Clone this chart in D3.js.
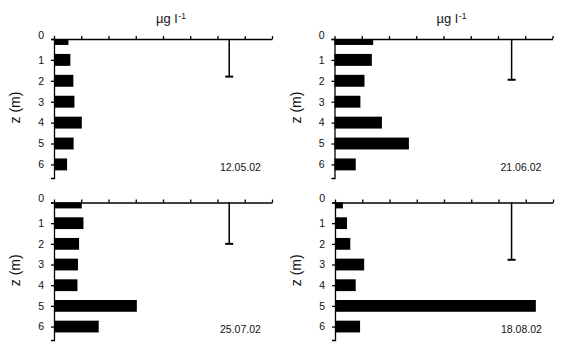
<!DOCTYPE html>
<html><head><meta charset="utf-8">
<script src="https://cdn.jsdelivr.net/npm/d3@7"></script>
<style>
body{margin:0;background:#fff}
text{font-family:"Liberation Sans",Arial,sans-serif;fill:#111}
</style>
</head><body>
<svg id="chart" width="567" height="348"></svg>
<script>
// ---- data (x in axis-tick units, unlabeled) ----
const depths = [0, 1, 2, 3, 4, 5, 6];
const dates = ["12.05.02", "21.06.02", "25.07.02", "18.08.02"];
const conc120502 = [0.53, 0.60, 0.71, 0.75, 1.02, 0.72, 0.48];
const conc210602 = [1.42, 1.37, 1.10, 0.95, 1.74, 2.73, 0.78];
const conc250702 = [1.02, 1.08, 0.92, 0.88, 0.86, 3.04, 1.64];
const conc180802 = [0.29, 0.44, 0.56, 1.07, 0.76, 7.37, 0.92];
const errorX = [6.43, 6.50, 6.43, 6.48];
const errorDepth = [1.80, 1.95, 2.00, 2.77];
const xTickValues = [0, 1, 2, 3, 4, 5, 6, 7, 8];
const yTickValues = [0, 1, 2, 3, 4, 5, 6];
const unitLabel = "µg l";
const unitSup = "-1";
const depthLabel = "z (m)";

const series = [conc120502, conc210602, conc250702, conc180802];

// ---- layout ----
const layout = [
  {x0: 54,  x1: 272, y0: 39,  y1: 178, unit: true, lx: 20},
  {x0: 334.5, x1: 552.5, y0: 39, y1: 178, unit: true, lx: 300.5},
  {x0: 54,  x1: 272, y0: 202.5, y1: 340, unit: false, lx: 20},
  {x0: 335, x1: 553, y0: 202.5, y1: 340, unit: false, lx: 300.5}
];
const yMax = 6.65;
const barHalf = 0.285;

const svg = d3.select("#chart");

layout.forEach((L, i) => {
  const x = d3.scaleLinear().domain([0, 8]).range([L.x0, L.x1]);
  const y = d3.scaleLinear().domain([0, yMax]).range([L.y0, L.y1]);
  const g = svg.append("g");
  const vals = series[i];

  // bars
  g.selectAll("rect.bar").data(depths).join("rect")
    .attr("class", "bar")
    .attr("x", x(0))
    .attr("y", d => y(Math.max(0, d - barHalf)))
    .attr("width", (d, j) => x(vals[j]) - x(0))
    .attr("height", d => y(d + barHalf) - y(Math.max(0, d - barHalf)))
    .attr("fill", "#000");

  // x axis (top, no labels)
  const ax = g.append("g").attr("transform", `translate(0,${L.y0})`)
    .call(d3.axisTop(x).tickValues(xTickValues).tickSize(3).tickSizeOuter(0).tickFormat(""));
  ax.selectAll("path,line").attr("stroke", "#000").attr("stroke-width", 1.3);

  // y axis
  const ay = g.append("g").attr("transform", `translate(${L.x0},0)`)
    .call(d3.axisLeft(y).tickValues(yTickValues).tickSize(3).tickSizeOuter(3).tickPadding(7).tickFormat(d3.format("d")));
  ay.selectAll("path,line").attr("stroke", "#000").attr("stroke-width", 1.3);
  ay.selectAll("text").style("font-size", "10.5px").style("font-family", '"Liberation Sans",Arial,sans-serif').attr("fill", "#111");
  ay.selectAll(".tick").filter(d => d === 0).select("text").attr("dy", "-0.05em");

  // error bar
  const ex = x(errorX[i]);
  g.append("line").attr("x1", ex).attr("x2", ex).attr("y1", y(0)).attr("y2", y(errorDepth[i]))
    .attr("stroke", "#000").attr("stroke-width", 1.5);
  g.append("line").attr("x1", ex - 4).attr("x2", ex + 4).attr("y1", y(errorDepth[i])).attr("y2", y(errorDepth[i]))
    .attr("stroke", "#000").attr("stroke-width", 2);

  // date label
  g.append("text").attr("x", L.x1 - 52).attr("y", L.y1 - 7.5)
    .style("font-size", "10.5px").text(dates[i]);

  // depth label
  const yc = (L.y0 + L.y1) / 2 - 1;
  g.append("text").attr("transform", `translate(${L.lx},${yc}) rotate(-90)`)
    .attr("text-anchor", "middle").style("font-size", "14px").text(depthLabel);

  // unit label
  if (L.unit) {
    const t = g.append("text").attr("x", (L.x0 + L.x1) / 2 + 8).attr("y", 23)
      .attr("text-anchor", "middle").style("font-size", "13px");
    t.append("tspan").text(unitLabel);
    t.append("tspan").attr("dy", "-0.45em").attr("dx", "1").style("font-size", "8.5px").text(unitSup);
  }
});
</script>
</body></html>
